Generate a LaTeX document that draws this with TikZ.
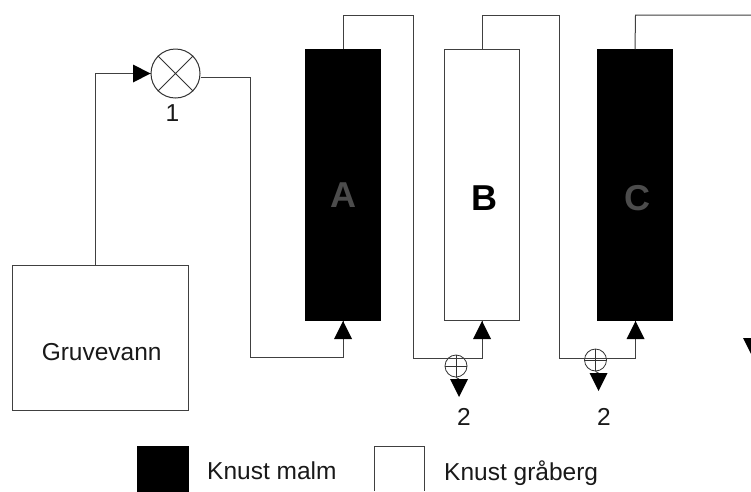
\documentclass[tikz,border=0pt]{standalone}
\usepackage{fontspec}
\setmainfont{Liberation Sans}
\usetikzlibrary{calc}
\tikzset{
  x=1pt,y=-1pt,
  line/.style={draw=black!75,line width=1pt},
  whitebox/.style={draw=black!75,line width=1pt,fill=white,minimum width=75pt,minimum height=271pt,inner sep=0pt},
  blackbox/.style={draw=black,fill=black,minimum width=75pt,minimum height=271pt,inner sep=0pt},
  txt/.style={font=\fontsize{24.5}{28}\selectfont,text=black!90,inner sep=0pt},
  bigtxt/.style={font=\bfseries\fontsize{36}{40}\selectfont,inner sep=0pt,anchor=base},
}
\newcommand{\triup}[1]{\fill[black] ($(#1)+(-9,9)$) -- ($(#1)+(0,-9)$) -- ($(#1)+(9,9)$) -- cycle;}
\newcommand{\tridown}[1]{\fill[black] ($(#1)+(-9,-9)$) -- ($(#1)+(0,9)$) -- ($(#1)+(9,-9)$) -- cycle;}
\begin{document}
\begin{tikzpicture}
\useasboundingbox (0,0) rectangle (751,491);
\fill[white] (0,0) rectangle (751,491);
\node[draw=black!75,line width=1pt,minimum width=176.7pt,minimum height=145pt,inner sep=0pt] (gv) at (100.4,337.7) {};
\node[txt,anchor=base] (gvt) at (101.7,360) {Gruvevann};
\node[blackbox] (A) at (343,185) {};
\node[whitebox] (B) at (482,185) {};
\node[blackbox] (C) at (635,185) {};
\node[bigtxt,text=black!70] (At) at (343,207) {A};
\node[bigtxt] (Bt) at (484,210) {B};
\node[bigtxt,text=black!70] (Ct) at (637,210) {C};
\node[draw=black!80,line width=1pt,circle,minimum size=49pt,inner sep=0pt] (v1) at (175.5,73.5) {};
\draw[line width=1pt,black!80] (v1.45) -- (v1.225) (v1.135) -- (v1.315);
\node[txt] (l1) at (172.5,113) {1};
\node[draw=black!80,line width=0.8pt,circle,minimum size=22pt,inner sep=0pt] (v2) at (456,366) {};
\draw[line width=0.7pt,black!80] (v2.north) -- (v2.south) (v2.west) -- (v2.east);
\node[draw=black!80,line width=0.8pt,circle,minimum size=22pt,inner sep=0pt] (v3) at (595.5,360) {};
\draw[line width=0.7pt,black!80] (v3.north) -- (v3.south) (v3.west) -- (v3.east);
\coordinate (c1) at (95.5,73.5);
\draw[line] (gv.north -| c1) -- (c1) -- (v1.west);
\coordinate (c2) at (250,77.5);
\coordinate (c3) at (250,357);
\coordinate (Ab) at (343,320.5);
\draw[line] (v1.east |- c2) -- (c2) -- (c3) -- (343,357) -- (Ab);
\coordinate (c4) at (343,15);
\coordinate (c5) at (413,15);
\coordinate (c6) at (413,358);
\draw[line] (A.north) -- (c4) -- (c5) -- (c6) -- (482,358) -- (482,320.5);
\coordinate (c7) at (482,15);
\coordinate (c8) at (559,15);
\coordinate (c9) at (559,358);
\draw[line] (B.north) -- (c7) -- (c8) -- (c9) -- (635.5,358) -- (635.5,320.5);
\coordinate (c10) at (635.5,15);
\coordinate (c11) at (751,15);
\draw[line] (C.north) -- (c10) -- (c11);
\fill[black] (133,64.5) -- (150.5,73.5) -- (133,82.5) -- cycle;
\triup{343,330}
\triup{482,330}
\triup{635.5,330}
\draw[line] (v2.south) -- (459,379);
\draw[line] (v3.south) -- (598.5,373);
\tridown{459,388}
\tridown{598.5,382}
\fill[black] (743,338) -- (751,338) -- (751,354) -- cycle;
\node[txt] (n2a) at (464,417) {2};
\node[txt] (n2b) at (604,417) {2};
\node[draw=black,fill=black,minimum width=51pt,minimum height=45pt,inner sep=0pt] (k1) at (163,468.5) {};
\node[txt,anchor=base west] (k1t) at (207,479) {Knust malm};
\draw[line] (374,491) -- (374,446) -- (424,446) -- (424,491);
\node[txt,anchor=base west] (k2t) at (444,480) {Knust gråberg};
\end{tikzpicture}
\end{document}
